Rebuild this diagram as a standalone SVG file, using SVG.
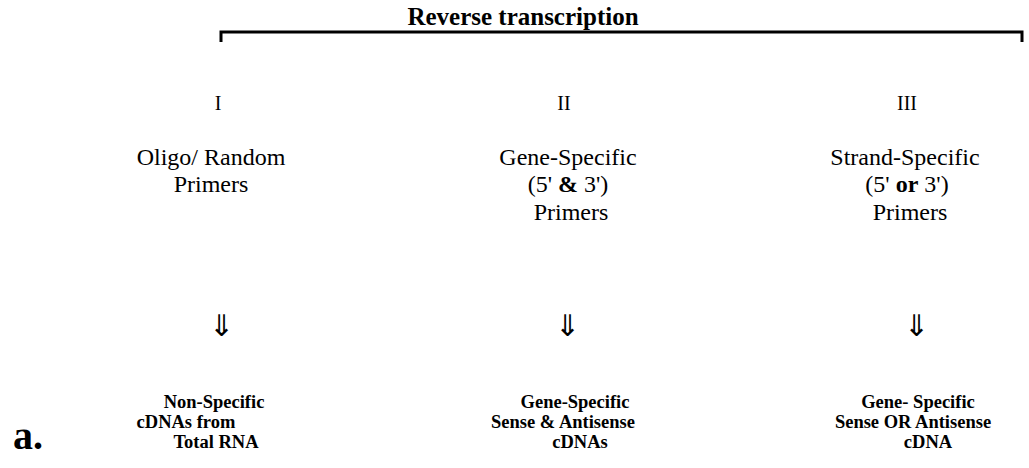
<svg xmlns="http://www.w3.org/2000/svg" width="1029" height="468" viewBox="0 0 1029 468">
<style>
text{font-family:"Liberation Serif","Times New Roman",serif;fill:#000;text-anchor:middle}
.t{font-size:25px;font-weight:bold}
.n{font-size:20px}
.p{font-size:24px}
.r{font-size:18.5px;font-weight:bold}
.ar{font-size:30px}
</style>
<rect width="1029" height="468" fill="#fff"/>
<g id="title"><text class="t" x="523" y="25">Reverse transcription</text></g>
<g id="connectors">
<path d="M221 42 V32 H1022 V42" fill="none" stroke="#000" stroke-width="3"/>
<text class="ar" x="221" y="336">⇓</text>
<text class="ar" x="567" y="336">⇓</text>
<text class="ar" x="916" y="336">⇓</text>
</g>
<g id="col1">
<text class="n" x="218" y="110">I</text>
<text class="p" x="211" y="165">Oligo/ Random</text>
<text class="p" x="211" y="192">Primers</text>
</g>
<g id="col2">
<text class="n" x="564" y="110">II</text>
<text class="p" x="568" y="165">Gene-Specific</text>
<text class="p" x="568" y="192">(5' <tspan font-weight="bold">&amp;</tspan> 3')</text>
<text class="p" x="571" y="220">Primers</text>
</g>
<g id="col3">
<text class="n" x="907" y="110">III</text>
<text class="p" x="905" y="165">Strand-Specific</text>
<text class="p" x="907" y="192">(5' <tspan font-weight="bold">or</tspan> 3')</text>
<text class="p" x="910" y="220">Primers</text>
</g>
<g id="out1">
<text class="r" x="214" y="408">Non-Specific</text>
<text class="r" x="186" y="428">cDNAs from</text>
<text class="r" x="216" y="448">Total RNA</text>
</g>
<g id="out2">
<text class="r" x="575" y="408">Gene-Specific</text>
<text class="r" x="563" y="428">Sense &amp; Antisense</text>
<text class="r" x="580" y="448">cDNAs</text>
</g>
<g id="out3">
<text class="r" x="918" y="408">Gene- Specific</text>
<text class="r" x="913" y="428">Sense OR Antisense</text>
<text class="r" x="928" y="448">cDNA</text>
</g>
<g id="label"><text x="28" y="449" style="font-size:40px;font-weight:bold">a.</text></g>
</svg>
